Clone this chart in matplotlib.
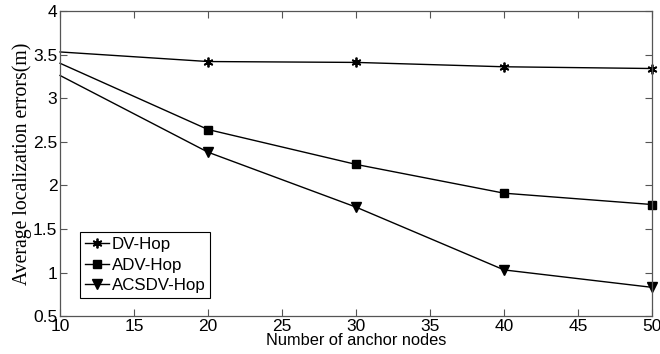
import matplotlib
matplotlib.use("Agg")
import matplotlib.pyplot as plt

# ─── Data ─────────────────────────────────────────────────────────────────────

anchor_nodes = [10, 20, 30, 40, 50]
dv_hop       = [3.53, 3.42, 3.41, 3.36, 3.34]
adv_hop      = [3.40, 2.64, 2.24, 1.91, 1.78]
acsdv_hop    = [3.26, 2.38, 1.75, 1.03, 0.83]

x_ticks = [10, 15, 20, 25, 30, 35, 40, 45, 50]
y_ticks = [0.5, 1, 1.5, 2, 2.5, 3, 3.5, 4]

# ─── Plot ─────────────────────────────────────────────────────────────────────

plt.rcParams["font.family"] = ["Liberation Sans", "DejaVu Sans"]

fig = plt.figure(figsize=(6.6, 3.54), dpi=100)
ax  = fig.add_axes([0.091, 0.107, 0.897, 0.862])

# no marker drawn at the first point (x=10), as in the original figure
marks = [1, 2, 3, 4]
ax.plot(anchor_nodes, dv_hop, color="black", linewidth=1.0,
        marker=(6, 2, 0), markersize=7, markeredgewidth=1.3,
        markevery=marks, label="DV-Hop", clip_on=False)
ax.plot(anchor_nodes, adv_hop, color="black", linewidth=1.0,
        marker="s", markersize=6, markevery=marks, label="ADV-Hop", clip_on=False)
ax.plot(anchor_nodes, acsdv_hop, color="black", linewidth=1.0,
        marker="v", markersize=7, markevery=marks, label="ACSDV-Hop", clip_on=False)

ax.set_xlim(10, 50)
ax.set_ylim(0.5, 4)
ax.set_xticks(x_ticks)
ax.set_yticks(y_ticks)
ax.set_yticklabels([f"{v:g}" for v in y_ticks])

ax.tick_params(direction="in", top=True, right=True, labelsize=12.5,
               length=5, width=0.8, color="#555555", pad=2)
for spine in ax.spines.values():
    spine.set_edgecolor("#555555")
    spine.set_linewidth(0.9)

ax.set_xlabel("Number of anchor nodes", fontsize=11.8, labelpad=-1)
ax.set_ylabel("Average localization errors(m)", fontsize=14.2,
              family=["Liberation Serif", "DejaVu Serif"], labelpad=1)

leg = ax.legend(loc="lower left", bbox_to_anchor=(0.034, 0.059),
                fontsize=12.2, fancybox=False, framealpha=1,
                edgecolor="black", handlelength=1.4, handletextpad=0.15,
                labelspacing=0.32, borderpad=0.3, borderaxespad=0)
leg.get_frame().set_linewidth(0.8)

plt.savefig("out.png", dpi=100)
